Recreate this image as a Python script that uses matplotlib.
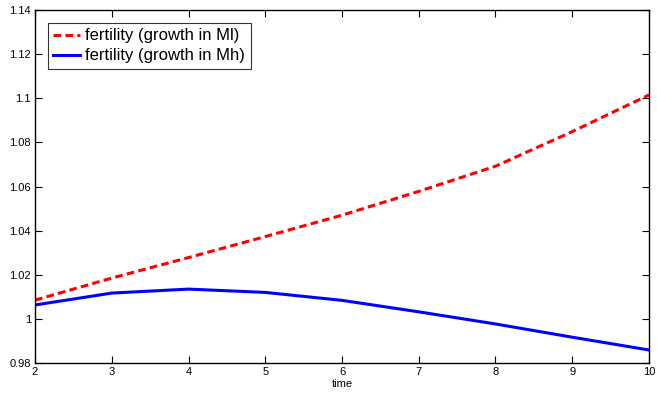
import numpy as np
import matplotlib
matplotlib.use('Agg')
import matplotlib.pyplot as plt

plt.rcParams['font.family'] = ['Liberation Sans', 'DejaVu Sans']

# data
time = [2, 3, 4, 5, 6, 7, 8, 9, 10]
fert_ml = [1.0085, 1.0185, 1.0278, 1.0373, 1.0470, 1.0578, 1.0692, 1.0849, 1.1015]
fert_mh = [1.0063, 1.0117, 1.0135, 1.0120, 1.0084, 1.0032, 0.9977, 0.9917, 0.9859]
yticks = [0.98, 1, 1.02, 1.04, 1.06, 1.08, 1.1, 1.12, 1.14]
yticklabels = ['0.98', '1', '1.02', '1.04', '1.06', '1.08', '1.1', '1.12', '1.14']

fig = plt.figure(figsize=(6.57, 3.96), dpi=100)
ax = fig.add_axes([0.0533, 0.0833, 0.9345, 0.8914])

ax.plot(time, fert_ml, color='red', linestyle='--', linewidth=2.2,
        dashes=(2.5, 1.4), label='fertility (growth in Ml)')
ax.plot(time, fert_mh, color='blue', linestyle='-', linewidth=2.2,
        label='fertility (growth in Mh)')

ax.set_xlim(2, 10)
ax.set_ylim(0.98, 1.14)
ax.set_xticks(time)
ax.set_yticks(yticks)
ax.set_yticklabels(yticklabels)
ax.tick_params(direction='in', top=True, right=True, length=5, width=0.8,
               labelsize=8, pad=3)
for s in ax.spines.values():
    s.set_linewidth(1.0)
ax.set_xlabel('time', fontsize=8, labelpad=1)

leg = ax.legend(loc='upper left', fontsize=12, frameon=True, fancybox=False,
                handlelength=1.6, handletextpad=0.3, borderpad=0.35,
                labelspacing=0.3, borderaxespad=0.75)
leg.get_frame().set_edgecolor('black')
leg.get_frame().set_linewidth(0.8)

fig.savefig('out.png', dpi=100)
